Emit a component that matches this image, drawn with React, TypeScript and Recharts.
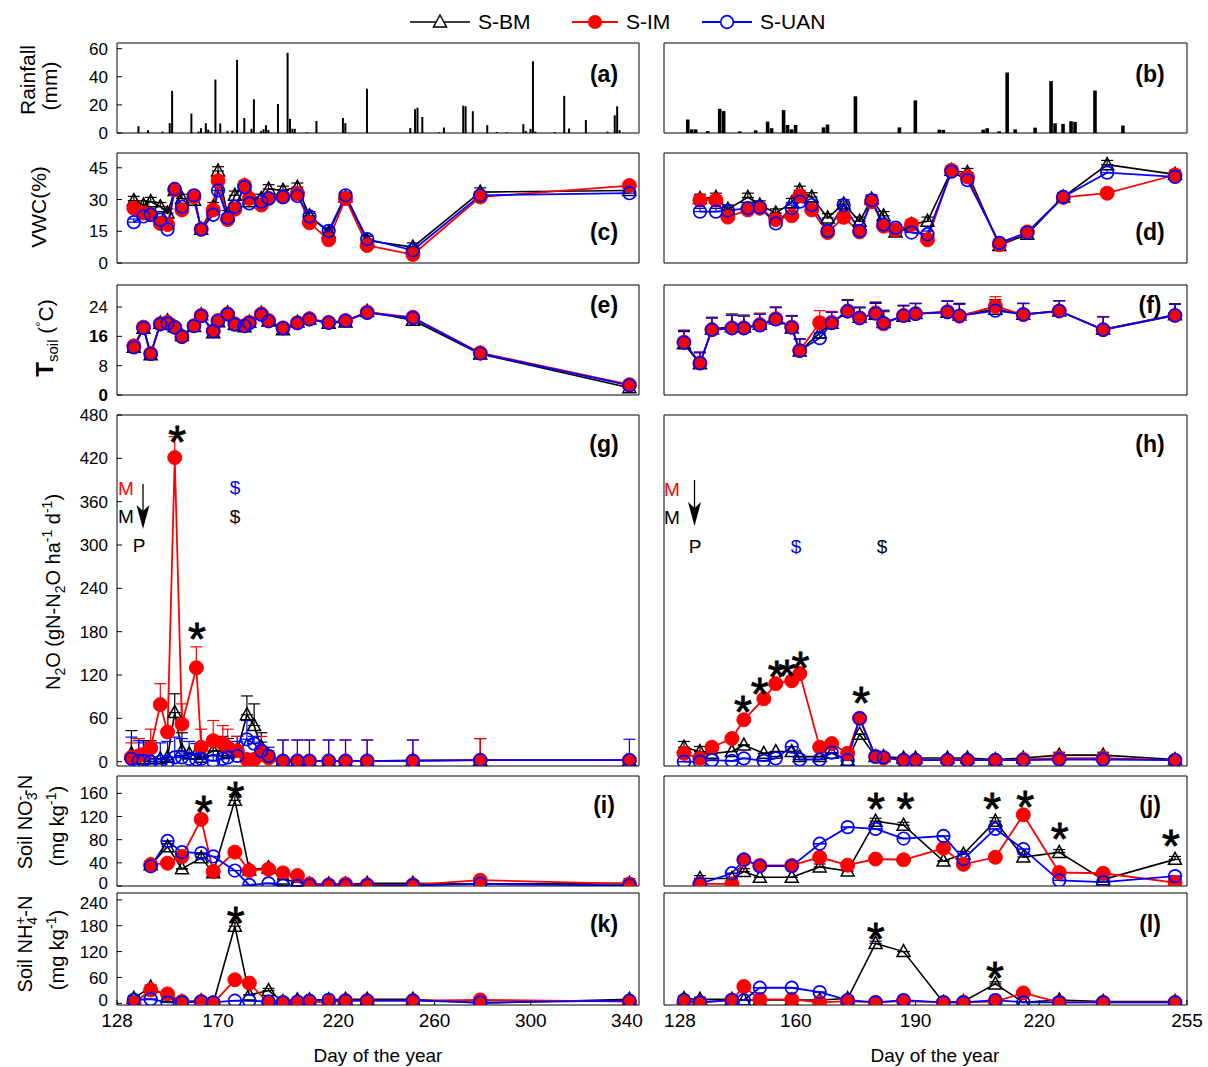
import React from "react";
import { ComposedChart, Line, Bar, Scatter, XAxis, YAxis, ErrorBar } from "recharts";

const FONT = "'Liberation Sans', Arial, Helvetica, sans-serif";
const BLACK = "#000000";
const RED = "#ff0000";
const BLUE = "#0000ff";

// ---------- rainfall (mm) ----------
const rainDaysL = [137, 141, 147, 150, 151, 159, 162, 163, 165, 166, 167, 169, 171, 174, 176, 178, 181, 184, 185, 188, 189, 190, 191, 195, 199, 200, 201, 202, 207, 211, 222, 223, 232, 250, 252, 253, 255, 262, 264, 272, 273, 276, 282, 286, 290, 297, 298, 300, 301, 302, 310, 314, 316, 323, 332, 335, 336, 337];
const rainL = [4.8, 2, 1, 7, 30, 13.8, 1, 3.4, 7, 2.4, 1, 38, 6.8, 1.5, 1.5, 52, 10.7, 3, 24, 1.5, 2.7, 5.6, 2.2, 20.6, 57, 10, 3, 3, 0.5, 8.5, 10.7, 7, 31.5, 3.6, 17, 18, 11.4, 0.5, 3.9, 19.4, 19, 15.5, 5.6, 0.7, 0.5, 6.3, 1.5, 3, 51, 1, 0.7, 26.4, 3.2, 9.2, 1, 12.6, 19, 2];
const rainDaysR = [130, 131, 132, 135, 138, 139, 143, 147, 150, 151, 154, 155, 156, 157, 164, 165, 172, 183, 187, 193, 194, 204, 205, 208, 210, 212, 217, 221, 222, 224, 226, 227, 232, 239];
const rainR = [9.6, 2.6, 2.6, 1.4, 17.2, 15.6, 1.2, 1.9, 8.1, 3.4, 16.3, 5.7, 2.6, 5.7, 4, 6, 26.1, 4, 23.2, 2.4, 2.2, 2.4, 3.4, 1.2, 43, 2.6, 3.8, 36.9, 6.9, 6.5, 8.4, 7.9, 30.2, 5.3];

// ---------- VWC (%) ----------
const vwcDaysL = [135, 139, 142, 146, 149, 152, 155, 160, 163, 168, 170, 174, 177, 181, 183, 188, 191, 197, 203, 208, 216, 223, 232, 251, 279, 341];
const vwcBmL = [29.5, 27.4, 29, 26.6, 23.6, 34.3, 30.5, 29.7, 16, 26.6, 43.5, 22.8, 32, 36.6, 29, 30.5, 35, 34.3, 35.8, 22.3, 14.4, 31.2, 10.6, 7.5, 33.5, 34.3];
const vwcImL = [25.9, 23.6, 22.8, 18.7, 18.2, 34.6, 25.1, 31.2, 15.9, 25.1, 38.9, 20.5, 25.4, 36.6, 30.5, 27.4, 30.5, 31.2, 32.8, 19, 11, 30.5, 8.3, 4, 31.2, 36.6];
const vwcUanL = [19.3, 22, 22.8, 20.5, 15.9, 35, 26.6, 32, 15.9, 22.8, 34.3, 21.3, 26.6, 35.8, 28.2, 29, 30.5, 31.2, 31.7, 22, 15.2, 32, 11.3, 6, 32, 33];
const vwcDaysR = [133, 137, 140, 145, 148, 152, 156, 158, 161, 165, 169, 173, 176, 179, 182, 186, 190, 196, 200, 208, 215, 224, 235, 252];
const vwcBmR = [30.5, 31, 25.4, 31, 27.4, 23.6, 28.5, 34.3, 31.2, 21.3, 27.9, 19.7, 30.2, 22.3, 14.7, 18.2, 19.7, 43.8, 42.7, 8.3, 13.6, 31.2, 46.5, 41.9];
const vwcImR = [29.7, 29.7, 21.7, 25.1, 25.9, 20.5, 22.3, 31.7, 25.1, 14.4, 21.6, 14.7, 29, 17.4, 15.6, 18.2, 11, 43.8, 40.7, 8.6, 14.7, 31, 33, 41.6];
const vwcUanR = [24.3, 24.3, 24.8, 25.9, 26.3, 18.7, 25.9, 29, 27.4, 15.2, 27.4, 15.2, 29.7, 18.2, 16.7, 14.4, 13.6, 43.2, 39.2, 9.5, 14.4, 31.2, 42.7, 40.7];

// ---------- soil temperature (°C) ----------
const tsBmL = [13.0, 18.2, 11.0, 19.6, 20.2, 18.6, 16.2, 18.7, 21.9, 17.0, 20.0, 22.4, 19.2, 18.6, 19.9, 22.3, 20.2, 17.8, 19.9, 20.7, 19.6, 19.9, 22.8, 20.4, 11.2, 2.0];
const tsImL = [13.4, 18.5, 11.3, 19.4, 19.8, 18.5, 15.9, 18.9, 21.7, 17.5, 20.3, 22.1, 19.4, 18.9, 19.8, 22.1, 20.3, 18.3, 19.7, 20.8, 19.8, 20.3, 22.6, 21.2, 11.5, 2.8];
const tsUanL = [13.0, 18.3, 11.2, 19.3, 19.5, 18.4, 15.9, 18.8, 21.5, 17.4, 20.2, 22.0, 19.2, 18.8, 19.6, 21.9, 20.1, 18.2, 19.6, 20.6, 19.7, 20.2, 22.4, 21.0, 11.3, 2.6];
const tsDaysR = [129, 133, 136, 141, 144, 148, 152, 156, 158, 163, 166, 170, 173, 177, 179, 184, 187, 195, 198, 207, 214, 223, 234, 252];
const tsBmR = [14.0, 8.5, 18.0, 18.6, 18.5, 19.3, 20.8, 18.3, 12.0, 16.9, 19.6, 23.0, 21.2, 22.0, 19.8, 21.5, 22.2, 22.6, 21.8, 23.4, 22.0, 22.9, 17.9, 21.9];
const tsImR = [14.4, 8.7, 17.8, 18.3, 18.3, 19.2, 20.8, 18.5, 12.1, 19.7, 19.8, 22.9, 21, 22.4, 19.4, 21.7, 22.2, 22.7, 21.5, 24.2, 21.9, 22.9, 17.8, 21.7];
const tsUanR = [14.3, 8.7, 17.8, 18.2, 18.2, 19.0, 20.6, 18.4, 12.1, 15.5, 19.6, 22.8, 21.0, 22.2, 19.6, 21.6, 22.1, 22.6, 21.6, 23.0, 22.0, 22.9, 17.8, 21.7];
const tsErrR = [3.3, 3, 3.2, 3.5, 3.3, 3, 3.2, 3.2, 3.2, 3.3, 3, 3, 2.8, 3, 3.3, 2.8, 2.8, 3, 3.2, 2.6, 3, 2.8, 3.5, 3];

// ---------- N2O flux (g N ha-1 d-1) ----------
const n2oDaysL = [134, 137, 139, 142, 146, 149, 152, 155, 158, 161, 163, 168, 172, 174, 178, 182, 185, 188, 191, 197, 203, 208, 216, 223, 232, 251, 279, 341];
const n2oBmL = [11, 4, 4, 4, 4, 6, 68, 15, 11, 11, 6, 15, 15, 12, 15, 65, 50, 20, 8, 1, 1, 1, 1, 1, 1, 2, 2, 2];
const n2oImL = [6, 8, 10, 19, 79, 41, 421, 52, null, 130, 20, 29, 25, 20, 15, 3, 3, 15, 5, 1, 1, 1, 1, 1, 1, 1, 2, 2];
const n2oUanL = [4, 1, 1, 0, 0, 0, 6, 6, 4, 3, 4, 1, 4, 6, 8, 31, 25, 15, 8, 1, 1, 1, 1, 1, 1, 1, 2, 2];
const n2oBmErrL = [32, 28, 25, 25, 0, 0, 26, 25, 0, 0, 0, 20, 20, 20, 20, 26, 30, 20, 0, 0, 0, 0, 0, 0, 0, 0, 30, 0];
const n2oImErrL = [20, 24, 0, 26, 29, 0, 29, 28, 0, 29, 25, 28, 25, 25, 20, 0, 0, 20, 10, 29, 29, 29, 29, 29, 29, 29, 30, 0];
const n2oUanErrL = [30, 28, 25, 26, 26, 28, 28, 26, 24, 22, 22, 22, 22, 22, 20, 26, 10, 12, 12, 29, 29, 29, 29, 29, 29, 29, 0, 29];
const n2oDaysR = [129, 133, 136, 141, 144, 149, 152, 156, 158, 163, 166, 170, 173, 177, 179, 184, 187, 195, 200, 207, 214, 223, 234, 252];
const n2oBmR = [20, 14, 11.5, 14, 23, 11.5, 14, 14, 7, 7, 11.5, 2, 38, 7, 7, 5, 5, 5, 5, 3, 5, 9, 9, 3];
const n2oImR = [11.5, 4.6, 20, 32, 58, 87, 108, 112, 122, 20, 25, 11.5, 60, 7, 5, 2, 2, 2, 2, 2, 3, 5, 5, 2];
const n2oUanR = [0, 0, 2, 1, 4.6, 1, 4.6, 20.8, 3, 3, 12.5, 2, 60, 7, 6, 2, 2, 2, 2, 2, 2, 3, 3, 2];
const n2oBmErrR = [8, 7, 6, 0, 0, 0, 0, 0, 0, 0, 0, 0, 0, 0, 0, 0, 0, 0, 0, 0, 0, 4, 4, 0];

// ---------- soil NO3- -N (mg kg-1) ----------
const no3DaysL = [142, 149, 155, 163, 168, 177, 183, 191, 197, 203, 208, 216, 223, 232, 251, 279, 341];
const no3BmL = [36.5, 68, 29.6, 48.7, 23, 148, 27.8, 31.3, 12, 6.4, 3.5, 3.5, 3.5, 4.6, 4.6, 3.5, 4.6];
const no3ImL = [37, 39.4, 51, 115, 25, 58.5, 26.7, 29, 22.6, 18, 3.5, 2, 3.5, 2, 2, 10, 3.5];
const no3UanL = [34, 77.7, 58.5, 56.8, 51, 26.7, 1.7, 4.6, 0.6, 0, 1, 1, 1, 1, 1, 3.5, 1];
const no3BmErrL = [5, 5, 0, 6, 0, 10, 0, 0, 0, 0, 0, 0, 0, 0, 5, 0, 8];
const no3ImErrL = [6, 0, 0, 7, 5, 6, 5, 6, 5, 5, 0, 0, 0, 0, 0, 5, 0];
const no3DaysR = [133, 141, 144, 148, 156, 163, 170, 177, 184, 194, 199, 207, 214, 223, 234, 252];
const no3BmR = [13, 13, 25, 15, 15, 33, 26, 112, 105, 43, 55, 112, 50, 58, 11, 46];
const no3ImR = [3.7, 3.7, 45.3, 35.5, 35.5, 49.6, 36, 46.6, 45.3, 65, 37.4, 49.6, 123, 23.3, 22, 6];
const no3UanR = [3.7, 22, 45.3, 34.3, 34.3, 73, 101.7, 98.6, 82, 86.4, 46.6, 98.6, 63.7, 9.8, 6.7, 17];
const no3BmErrR = [5, 0, 5, 0, 0, 5, 5, 5, 5, 0, 5, 6, 5, 5, 0, 5];
const no3ImErrR = [0, 0, 6, 5, 5, 5, 0, 0, 0, 4, 0, 0, 4, 5, 5, 0];

// ---------- soil NH4+ -N (mg kg-1) ----------
const nh4DaysL = [135, 142, 149, 155, 163, 168, 177, 183, 191, 197, 203, 208, 216, 223, 232, 251, 279, 341];
const nh4BmL = [11.7, 37.4, 15.6, 4, 5.5, 0, 179, 19.5, 29.6, 4, 7.8, 7.8, 7.8, 9.4, 9.4, 9.4, 0, 9.4];
const nh4ImL = [0, 31, 21.8, 4, 4, 0, 54.5, 46.8, 0, 2, 2, 4, 2, 6, 6, 6, 7.8, 4];
const nh4UanL = [7.8, 9.4, 2, 2, 4, 2, 6, 6, 4, 2, 4, 6, 7.8, 6, 6, 6, 2, 6];
const nh4BmErrL = [5, 5, 5, 0, 0, 0, 8, 0, 5, 0, 0, 0, 0, 0, 0, 0, 0, 0];
const nh4DaysR = [129, 133, 141, 144, 148, 156, 163, 170, 177, 184, 194, 199, 207, 214, 223, 234, 252];
const nh4BmR = [11, 9, 9, 7.5, 7.5, 7.5, 7.5, 11, 139, 120, 2, 4, 45, 2, 7.5, 4, 4];
const nh4ImR = [2, 2, 7.5, 39, 9, 9, 2, 5, 2, 5, 2, 2, 4, 24, 2, 2, 2];
const nh4UanR = [7.5, 2, 7.5, 7.5, 36, 36, 26, 7.5, 2, 7.5, 2, 2, 7.5, 2, 2, 2, 2];
const nh4BmErrR = [5, 5, 5, 0, 0, 0, 0, 5, 5, 0, 0, 0, 5, 0, 5, 5, 5];

// ---------- significance asterisks (day, value) ----------
const starsG = [{ day: 153, v: 457 }, { day: 161.2, v: 184 }];
const starsH = [{ day: 143.8, v: 83 }, { day: 148, v: 108 }, { day: 152.2, v: 131.5 }, { day: 154.8, v: 132 }, { day: 158.2, v: 143 }, { day: 173.4, v: 94.6 }];
const starsI = [{ day: 164, v: 145.5 }, { day: 177.2, v: 168.7 }];
const starsJ = [{ day: 177.1, v: 150.7 }, { day: 184.5, v: 150.7 }, { day: 206.2, v: 150.7 }, { day: 214.5, v: 153.7 }, { day: 223.1, v: 98.6 }, { day: 251, v: 86.4 }];
const starsK = [{ day: 177.3, v: 210 }];
const starsL = [{ day: 177, v: 172.5 }, { day: 206.9, v: 82.5 }];

// ---------- axes ----------
const xDomL: [number, number] = [128, 345];
const xDomR: [number, number] = [124, 255];
const xTicksL = [128, 170, 220, 260, 300, 340];
const xTicksLow = [150, 200, 250, 300];
const xTicksR = [128, 160, 190, 220, 255];
const xTicksRLow = [128, 157, 187, 218, 255];
const xLabelR: Record<number, string> = { 157: "160", 187: "190", 218: "220" };

type Num = number | null;
type Err = number[] | number | undefined;
const errAt = (e: Err, i: number) => (Array.isArray(e) ? e[i] ?? 0 : e ?? 0);

function table(days: number[], bm: Num[], im: Num[], uan: Num[], bmE?: Err, imE?: Err, uanE?: Err) {
  return days.map((day, i) => ({
    day,
    bm: bm[i],
    im: im[i],
    uan: uan[i],
    bmE: bm[i] == null ? undefined : [0, errAt(bmE, i)],
    imE: im[i] == null ? undefined : [0, errAt(imE, i)],
    uanE: uan[i] == null ? undefined : [0, errAt(uanE, i)],
  }));
}
const rainTable = (days: number[], mm: number[]) => days.map((day, i) => ({ day, rain: mm[i] }));

const COL_L = { x: 117, w: 522 };
const COL_R = { x: 664, w: 523 };
const ROW = {
  rain: { y: 43, h: 90 },
  vwc: { y: 153, h: 110 },
  ts: { y: 285, h: 110 },
  n2o: { y: 415, h: 351 },
  no3: { y: 776, h: 110 },
  nh4: { y: 893, h: 112 },
};

// space around each plot area (axes themselves are 1px thick)
const PL = 80, PR = 24, PT = 26, PB = 44;

function YTick(t: any) {
  const v = t.payload?.value;
  const shift = (t.nudge && t.nudge[v]) || 0;
  return (
    <text x={t.x} y={t.y + shift} dy="0.36em" textAnchor="end" fill={BLACK} fontSize={17} fontFamily={FONT}
      fontWeight={t.bold && t.bold.includes(v) ? 700 : 400}>
      {v}
    </text>
  );
}

type PanelProps = {
  col: { x: number; w: number };
  row: { y: number; h: number };
  xDomain: [number, number];
  ticks: number[];
  labelTicks?: number[];
  labelText?: Record<number, string>;
  yDomain: [number, number];
  yTicks: number[];
  showY?: boolean;
  boldY?: number[];
  nudgeY?: Record<number, number>;
  data: object[];
  children: React.ReactNode;
};

function Panel(p: PanelProps) {
  const W = p.col.w + PL + PR;
  const H = p.row.h + PT + PB;
  const ax = { stroke: BLACK, strokeWidth: 1 };
  return (
    <div style={{ position: "absolute", left: p.col.x - PL, top: p.row.y - PT, width: W, height: H }}>
      <ComposedChart width={W} height={H} data={p.data} margin={{ top: PT - 1, right: PR - 1, bottom: PB - 1, left: PL - 1 }}>
        <XAxis xAxisId="b" dataKey="day" type="number" domain={p.xDomain} allowDataOverflow
          ticks={p.labelTicks ?? p.ticks} interval={0} height={1} tickSize={-5} tickMargin={14}
          axisLine={ax} tickLine={ax}
          tick={p.labelTicks ? { fill: BLACK, fontSize: 19, fontFamily: FONT } : false}
          tickFormatter={(v: number) => (p.labelText && p.labelText[v]) || String(v)} />
        <XAxis xAxisId="t" orientation="top" type="number" domain={p.xDomain} allowDataOverflow
          ticks={p.ticks} interval={0} height={1} tickSize={-5} tick={false} axisLine={ax} tickLine={ax} />
        <YAxis yAxisId="l" type="number" domain={p.yDomain} allowDataOverflow ticks={p.yTicks} interval={0}
          width={1} tickSize={-5} tickMargin={14} axisLine={ax} tickLine={ax}
          tick={p.showY ? (t: any) => <YTick {...t} bold={p.boldY} nudge={p.nudgeY} /> : false} />
        <YAxis yAxisId="r" orientation="right" type="number" domain={p.yDomain} allowDataOverflow ticks={p.yTicks}
          interval={0} width={1} tickSize={-5} tick={false} axisLine={ax} tickLine={ax} />
        {p.children}
      </ComposedChart>
    </div>
  );
}

function triDot(p: any) {
  const { cx, cy, index } = p;
  if (!Number.isFinite(cx) || !Number.isFinite(cy)) return <g key={`t${index}`} />;
  return <path key={`t${index}`} d={`M${cx},${cy - 7} L${cx + 6.5},${cy + 5} L${cx - 6.5},${cy + 5} Z`}
    fill="none" stroke={BLACK} strokeWidth={1.5} />;
}
function redDot(p: any) {
  const { cx, cy, index } = p;
  if (!Number.isFinite(cx) || !Number.isFinite(cy)) return <g key={`r${index}`} />;
  return <circle key={`r${index}`} cx={cx} cy={cy} r={7} fill={RED} stroke={RED} strokeWidth={1} />;
}
function blueDot(p: any) {
  const { cx, cy, index } = p;
  if (!Number.isFinite(cx) || !Number.isFinite(cy)) return <g key={`u${index}`} />;
  return <circle key={`u${index}`} cx={cx} cy={cy} r={6.3} fill="none" stroke={BLUE} strokeWidth={1.7} />;
}
function starShape(p: any) {
  return (
    <text x={p.cx} y={p.cy + 26} textAnchor="middle" fontSize={46} fontFamily={FONT} fill={BLACK}
      stroke={BLACK} strokeWidth={0.8}>*</text>
  );
}

function trio() {
  const common = { xAxisId: "b", yAxisId: "l", type: "linear" as const, activeDot: false, connectNulls: true, isAnimationActive: false };
  return [
    <Line key="bm" {...common} dataKey="bm" stroke={BLACK} strokeWidth={1.6} dot={triDot}>
      <ErrorBar dataKey="bmE" direction="y" width={6} stroke={BLACK} strokeWidth={1.2} isAnimationActive={false} />
    </Line>,
    <Line key="im" {...common} dataKey="im" stroke={RED} strokeWidth={1.8} dot={redDot}>
      <ErrorBar dataKey="imE" direction="y" width={6} stroke={RED} strokeWidth={1.2} isAnimationActive={false} />
    </Line>,
    <Line key="uan" {...common} dataKey="uan" stroke={BLUE} strokeWidth={1.8} dot={blueDot}>
      <ErrorBar dataKey="uanE" direction="y" width={6} stroke={BLUE} strokeWidth={1.2} isAnimationActive={false} />
    </Line>,
  ];
}
function stars(data: { day: number; v: number }[]) {
  return <Scatter key="stars" data={data} dataKey="v" xAxisId="b" yAxisId="l" shape={starShape} isAnimationActive={false} />;
}
function rainBars(w: number) {
  return <Bar key="rain" dataKey="rain" xAxisId="b" yAxisId="l" fill={BLACK} barSize={w} isAnimationActive={false} />;
}

function Overlay() {
  const t = { fontFamily: FONT, fill: BLACK };
  const sub = (s: string, d = 5) => <tspan dy={d} fontSize={14}>{s}</tspan>;
  return (
    <svg width={1208} height={1067} style={{ position: "absolute", left: 0, top: 0, pointerEvents: "none" }}>
      {/* legend */}
      <line x1={410} y1={22} x2={470} y2={22} stroke={BLACK} strokeWidth={1.6} />
      <path d="M440,15 L446.5,27 L433.5,27 Z" fill="#fff" stroke={BLACK} strokeWidth={1.5} />
      <text x={478} y={29} fontSize={21} {...t}>S-BM</text>
      <line x1={572} y1={22} x2={618} y2={22} stroke={RED} strokeWidth={1.8} />
      <circle cx={595} cy={22} r={7} fill={RED} />
      <text x={626} y={29} fontSize={21} {...t}>S-IM</text>
      <line x1={702} y1={22} x2={752} y2={22} stroke={BLUE} strokeWidth={1.8} />
      <circle cx={727} cy={22} r={6.3} fill="#fff" stroke={BLUE} strokeWidth={1.7} />
      <text x={760} y={29} fontSize={21} {...t}>S-UAN</text>

      {/* panel letters */}
      {[
        ["(a)", 75], ["(c)", 233], ["(e)", 306], ["(g)", 445], ["(i)", 806], ["(k)", 925],
      ].map(([s, y]) => (
        <text key={s as string} x={604} y={(y as number) + 7} textAnchor="middle" fontSize={23} fontWeight={700} {...t}>{s}</text>
      ))}
      {[
        ["(b)", 75], ["(d)", 233], ["(f)", 306], ["(h)", 445], ["(j)", 806], ["(l)", 925],
      ].map(([s, y]) => (
        <text key={s as string} x={1150} y={(y as number) + 7} textAnchor="middle" fontSize={23} fontWeight={700} {...t}>{s}</text>
      ))}

      {/* y-axis titles */}
      <text transform="translate(35,80) rotate(-90)" textAnchor="middle" fontSize={21} {...t}>Rainfall</text>
      <text transform="translate(57,86) rotate(-90)" textAnchor="middle" fontSize={21} {...t}>(mm)</text>
      <text transform="translate(46,207) rotate(-90)" textAnchor="middle" fontSize={21} {...t}>VWC(%)</text>
      <text transform="translate(53,338) rotate(-90)" textAnchor="middle" fontSize={21} {...t}>
        <tspan fontWeight={700} fontSize={24}>T</tspan>
        <tspan dy={5} fontSize={15}>soil</tspan>
        <tspan dy={-5}> (</tspan>
        <tspan dy={-8} fontSize={13}>°</tspan>
        <tspan dy={8}>C)</tspan>
      </text>
      <text transform="translate(60,592) rotate(-90)" textAnchor="middle" fontSize={20} {...t}>
        N{sub("2")}<tspan dy={-5}>O (gN-N</tspan>{sub("2")}<tspan dy={-5}>O ha</tspan>
        <tspan dy={-8} fontSize={14}>-1</tspan><tspan dy={8}> d</tspan>
        <tspan dy={-8} fontSize={14}>-1</tspan><tspan dy={8}>)</tspan>
      </text>
      <text transform="translate(32,822) rotate(-90)" textAnchor="middle" fontSize={20} {...t}>
        Soil NO{sub("3")}<tspan dx={-8} dy={-12} fontSize={14}>-</tspan><tspan dy={7}>-N</tspan>
      </text>
      <text transform="translate(64,826) rotate(-90)" textAnchor="middle" fontSize={20} {...t}>
        (mg kg<tspan dy={-8} fontSize={14}>-1</tspan><tspan dy={8}>)</tspan>
      </text>
      <text transform="translate(32,944) rotate(-90)" textAnchor="middle" fontSize={20} {...t}>
        Soil NH{sub("4")}<tspan dx={-8} dy={-12} fontSize={14}>+</tspan><tspan dy={7}>-N</tspan>
      </text>
      <text transform="translate(64,950) rotate(-90)" textAnchor="middle" fontSize={20} {...t}>
        (mg kg<tspan dy={-8} fontSize={14}>-1</tspan><tspan dy={8}>)</tspan>
      </text>

      {/* x-axis titles */}
      <text x={378} y={1062} textAnchor="middle" fontSize={19} {...t}>Day of the year</text>
      <text x={935} y={1062} textAnchor="middle" fontSize={19} {...t}>Day of the year</text>

      {/* management annotations in (g) */}
      <text x={126} y={495} textAnchor="middle" fontSize={19} fontFamily={FONT} fill={RED}>M</text>
      <text x={126} y={523} textAnchor="middle" fontSize={19} {...t}>M</text>
      <text x={139} y={552} textAnchor="middle" fontSize={19} {...t}>P</text>
      <line x1={143} y1={484} x2={143} y2={515} stroke={BLACK} strokeWidth={1.3} />
      <path d="M143,529 L136.5,505 L143,511 L149.5,505 Z" fill={BLACK} />
      <text x={235} y={494} textAnchor="middle" fontSize={19} fontFamily={FONT} fill={BLUE}>$</text>
      <text x={235} y={523} textAnchor="middle" fontSize={19} {...t}>$</text>

      {/* management annotations in (h) */}
      <text x={672} y={496} textAnchor="middle" fontSize={19} fontFamily={FONT} fill={RED}>M</text>
      <text x={672} y={524} textAnchor="middle" fontSize={19} {...t}>M</text>
      <text x={695} y={553} textAnchor="middle" fontSize={19} {...t}>P</text>
      <line x1={694.5} y1={480} x2={694.5} y2={512} stroke={BLACK} strokeWidth={1.3} />
      <path d="M694.5,526 L688,502 L694.5,508 L701,502 Z" fill={BLACK} />
      <text x={796} y={553} textAnchor="middle" fontSize={19} fontFamily={FONT} fill={BLUE}>$</text>
      <text x={882} y={553} textAnchor="middle" fontSize={19} {...t}>$</text>
    </svg>
  );
}

export default function App() {
  return (
    <div style={{ position: "absolute", left: 0, top: 0, width: 1208, height: 1067, background: "#fff", overflow: "hidden", fontFamily: FONT }}>
      {/* rainfall */}
      <Panel col={COL_L} row={ROW.rain} xDomain={xDomL} ticks={xTicksL} yDomain={[0, 64]} yTicks={[0, 20, 40, 60]} showY
        data={rainTable(rainDaysL, rainL)}>
        {rainBars(2)}
      </Panel>
      <Panel col={COL_R} row={ROW.rain} xDomain={xDomR} ticks={xTicksR} yDomain={[0, 64]} yTicks={[0, 20, 40, 60]}
        data={rainTable(rainDaysR, rainR)}>
        {rainBars(3.6)}
      </Panel>

      {/* VWC */}
      <Panel col={COL_L} row={ROW.vwc} xDomain={xDomL} ticks={xTicksL} yDomain={[0, 52]} yTicks={[0, 15, 30, 45]} showY
        data={table(vwcDaysL, vwcBmL, vwcImL, vwcUanL, 2, 2, 1.5)}>
        {trio()}
      </Panel>
      <Panel col={COL_R} row={ROW.vwc} xDomain={xDomR} ticks={xTicksR} yDomain={[0, 52]} yTicks={[0, 15, 30, 45]}
        data={table(vwcDaysR, vwcBmR, vwcImR, vwcUanR, 2, 2, 1.5)}>
        {trio()}
      </Panel>

      {/* soil temperature */}
      <Panel col={COL_L} row={ROW.ts} xDomain={xDomL} ticks={xTicksL} yDomain={[0, 30]} yTicks={[0, 8, 16, 24]} showY boldY={[0, 16]}
        data={table(vwcDaysL, tsBmL, tsImL, tsUanL, 0.6, 0.6, 0.6)}>
        {trio()}
      </Panel>
      <Panel col={COL_R} row={ROW.ts} xDomain={xDomR} ticks={xTicksR} yDomain={[0, 30]} yTicks={[0, 8, 16, 24]}
        data={table(tsDaysR, tsBmR, tsImR, tsUanR, tsErrR, tsErrR, tsErrR)}>
        {trio()}
      </Panel>

      {/* N2O */}
      <Panel col={COL_L} row={ROW.n2o} xDomain={xDomL} ticks={xTicksL} yDomain={[-6, 480]}
        yTicks={[0, 60, 120, 180, 240, 300, 360, 420, 480]} showY
        data={table(n2oDaysL, n2oBmL, n2oImL, n2oUanL, n2oBmErrL, n2oImErrL, n2oUanErrL)}>
        {trio()}
        {stars(starsG)}
      </Panel>
      <Panel col={COL_R} row={ROW.n2o} xDomain={xDomR} ticks={xTicksR} yDomain={[-6, 480]}
        yTicks={[0, 60, 120, 180, 240, 300, 360, 420, 480]}
        data={table(n2oDaysR, n2oBmR, n2oImR, n2oUanR, n2oBmErrR, 0, 0)}>
        {trio()}
        {stars(starsH)}
      </Panel>

      {/* NO3 */}
      <Panel col={COL_L} row={ROW.no3} xDomain={xDomL} ticks={xTicksLow} yDomain={[0, 190]} yTicks={[0, 40, 80, 120, 160]} showY
        nudgeY={{ 0: -3 }}
        data={table(no3DaysL, no3BmL, no3ImL, no3UanL, no3BmErrL, no3ImErrL, 0)}>
        {trio()}
        {stars(starsI)}
      </Panel>
      <Panel col={COL_R} row={ROW.no3} xDomain={xDomR} ticks={xTicksRLow} yDomain={[0, 190]} yTicks={[0, 40, 80, 120, 160]}
        data={table(no3DaysR, no3BmR, no3ImR, no3UanR, no3BmErrR, no3ImErrR, 0)}>
        {trio()}
        {stars(starsJ)}
      </Panel>

      {/* NH4 */}
      <Panel col={COL_L} row={ROW.nh4} xDomain={xDomL} ticks={xTicksLow} labelTicks={xTicksL} yDomain={[-4, 256]}
        yTicks={[0, 60, 120, 180, 240]} showY nudgeY={{ 240: 3, 0: -3 }}
        data={table(nh4DaysL, nh4BmL, nh4ImL, nh4UanL, nh4BmErrL, 0, 0)}>
        {trio()}
        {stars(starsK)}
      </Panel>
      <Panel col={COL_R} row={ROW.nh4} xDomain={xDomR} ticks={xTicksRLow} labelTicks={xTicksRLow} labelText={xLabelR}
        yDomain={[-4, 256]} yTicks={[0, 60, 120, 180, 240]}
        data={table(nh4DaysR, nh4BmR, nh4ImR, nh4UanR, nh4BmErrR, 0, 0)}>
        {trio()}
        {stars(starsL)}
      </Panel>

      <Overlay />
    </div>
  );
}
